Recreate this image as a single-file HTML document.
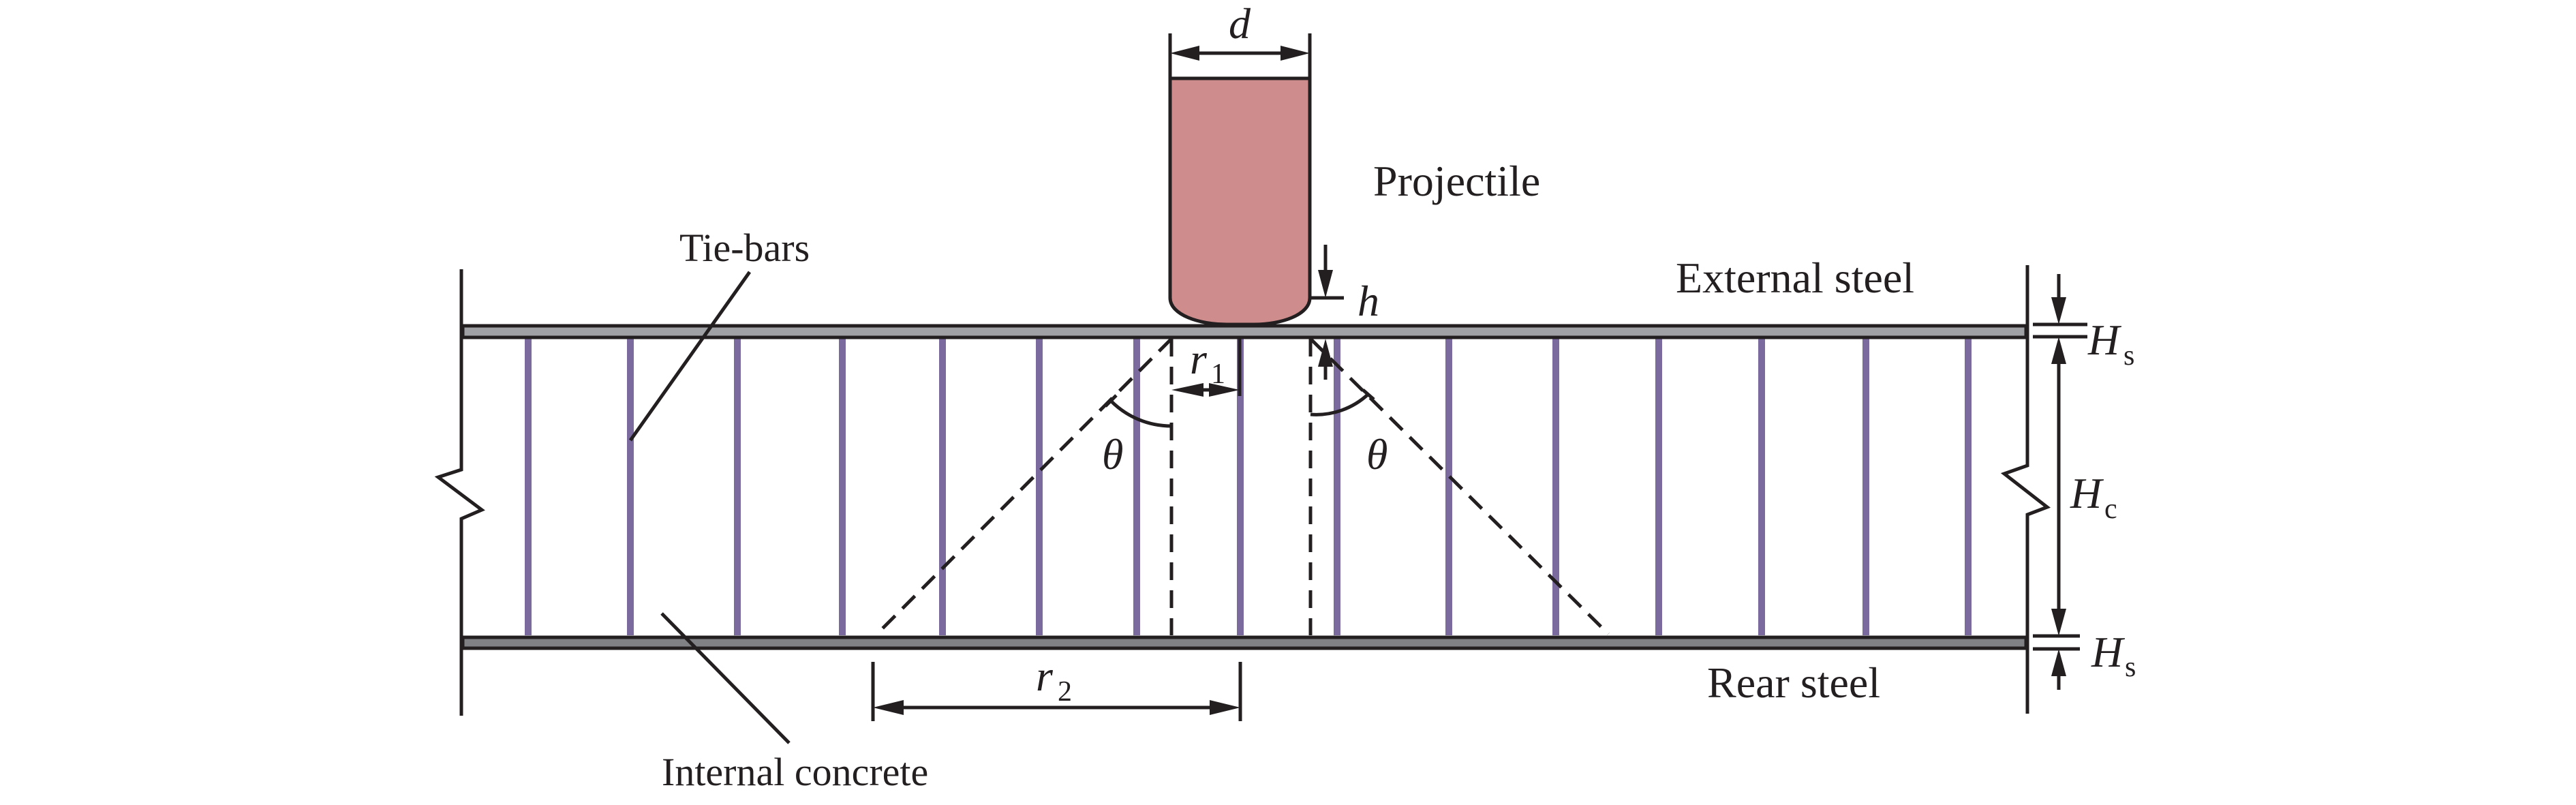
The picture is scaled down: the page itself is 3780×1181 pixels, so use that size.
<!DOCTYPE html>
<html><head><meta charset="utf-8"><style>
html,body{margin:0;padding:0;background:#fff;}
svg{display:block;}
text{font-family:"Liberation Serif",serif;fill:#231f20;}
</style></head><body>
<svg width="3780" height="1181" viewBox="0 0 3780 1181" xmlns="http://www.w3.org/2000/svg">
<!-- side break lines -->
<polyline points="677,395 677,689 643,700 707,748 677,761 677,1050" fill="none" stroke="#231f20" stroke-width="5"/>
<polyline points="2975,389 2975,683 2941,695 3004,744 2975,755 2975,1047" fill="none" stroke="#231f20" stroke-width="5"/>
<!-- tie bars -->
<g stroke="#7a6a9e" stroke-width="10">
<line x1="775" y1="497" x2="775" y2="932"/>
<line x1="925" y1="497" x2="925" y2="932"/>
<line x1="1082" y1="497" x2="1082" y2="932"/>
<line x1="1236" y1="497" x2="1236" y2="932"/>
<line x1="1383" y1="497" x2="1383" y2="932"/>
<line x1="1525" y1="497" x2="1525" y2="932"/>
<line x1="1668" y1="497" x2="1668" y2="932"/>
<line x1="1820" y1="497" x2="1820" y2="932"/>
<line x1="1962" y1="497" x2="1962" y2="932"/>
<line x1="2126" y1="497" x2="2126" y2="932"/>
<line x1="2283" y1="497" x2="2283" y2="932"/>
<line x1="2434" y1="497" x2="2434" y2="932"/>
<line x1="2585" y1="497" x2="2585" y2="932"/>
<line x1="2738" y1="497" x2="2738" y2="932"/>
<line x1="2888" y1="497" x2="2888" y2="932"/>
</g>
<!-- plates -->
<rect x="679" y="478" width="2294" height="17" fill="#a0a1a4" stroke="#231f20" stroke-width="5"/>
<rect x="679" y="935" width="2294" height="16" fill="#808184" stroke="#231f20" stroke-width="5"/>
<!-- projectile -->
<path d="M1717,115 L1922,115 L1922,437 C1922,462 1880,476 1840,476 L1800,476 C1760,476 1717,462 1717,437 Z" fill="#cf8c8c" stroke="#231f20" stroke-width="5"/>
<!-- dashed lines -->
<g stroke="#231f20" stroke-width="5" stroke-dasharray="26,15" fill="none">
<line x1="1719" y1="497" x2="1719" y2="932"/>
<line x1="1923" y1="497" x2="1923" y2="932"/>
<line x1="1719" y1="497" x2="1287" y2="930"/>
<line x1="1923" y1="497" x2="2360" y2="930"/>
</g>
<!-- angle arcs -->
<path d="M1630,588 A125,125 0 0 0 1719,625" fill="none" stroke="#231f20" stroke-width="5"/>
<line x1="1622" y1="596" x2="1638" y2="580" stroke="#231f20" stroke-width="5"/>
<path d="M1923,608 A112,112 0 0 0 2008,578" fill="none" stroke="#231f20" stroke-width="5"/>
<line x1="2000" y1="572" x2="2016" y2="586" stroke="#231f20" stroke-width="5"/>
<!-- dimension lines -->
<g stroke="#231f20" stroke-width="5" fill="none">
<line x1="1717" y1="49" x2="1717" y2="115"/>
<line x1="1922" y1="49" x2="1922" y2="115"/>
<line x1="1745" y1="78" x2="1894" y2="78"/>
<line x1="1945" y1="359" x2="1945" y2="410"/>
<line x1="1923" y1="437" x2="1972" y2="437"/>
<line x1="1945" y1="525" x2="1945" y2="557"/>
<line x1="1819" y1="497" x2="1819" y2="581"/>
<line x1="1745" y1="572" x2="1793" y2="572"/>
<line x1="1281" y1="971" x2="1281" y2="1058"/>
<line x1="1820" y1="971" x2="1820" y2="1058"/>
<line x1="1310" y1="1038" x2="1791" y2="1038"/>
<line x1="3021" y1="402" x2="3021" y2="450"/>
<line x1="2983" y1="476" x2="3063" y2="476"/>
<line x1="2983" y1="494" x2="3063" y2="494"/>
<line x1="3021" y1="522" x2="3021" y2="905"/>
<line x1="2983" y1="933" x2="3052" y2="933"/>
<line x1="2983" y1="952" x2="3052" y2="952"/>
<line x1="3021" y1="978" x2="3021" y2="1012"/>
<line x1="1100" y1="399" x2="925" y2="646"/>
<line x1="971" y1="900" x2="1158" y2="1090"/>
</g>
<!-- arrowheads -->
<g fill="#231f20">
<polygon points="1717,78 1760,67 1760,89"/>
<polygon points="1922,78 1879,67 1879,89"/>
<polygon points="1945,437 1934,396 1956,396"/>
<polygon points="1945,497 1934,538 1956,538"/>
<polygon points="1719,572 1766,562 1766,582"/>
<polygon points="1819,572 1774,562 1774,582"/>
<polygon points="1281,1038 1326,1027 1326,1049"/>
<polygon points="1820,1038 1775,1027 1775,1049"/>
<polygon points="3021,476 3010,436 3032,436"/>
<polygon points="3021,494 3010,534 3032,534"/>
<polygon points="3021,933 3010,893 3032,893"/>
<polygon points="3021,952 3010,992 3032,992"/>
</g>
<!-- labels -->
<g font-size="58">
<text x="997" y="383">Tie-bars</text>
<text x="971" y="1152">Internal concrete</text>
</g>
<g font-size="64">
<text x="2015" y="287">Projectile</text>
<text x="2459" y="429">External steel</text>
<text x="2505" y="1023">Rear steel</text>
</g>
<g font-size="64" font-style="italic">
<text x="1803" y="56">d</text>
<text x="1992" y="463">h</text>
<text x="1746" y="548">r</text>
<text x="1520" y="1013">r</text>
<text x="1617" y="688">θ</text>
<text x="2005" y="688">θ</text>
<text x="3064" y="520">H</text>
<text x="3038" y="745">H</text>
<text x="3069" y="978">H</text>
</g>
<g font-size="42">
<text x="1777" y="562">1</text>
<text x="1552" y="1028">2</text>
<text x="3116" y="535">s</text>
<text x="3088" y="760">c</text>
<text x="3118" y="992">s</text>
</g>
</svg>
</body></html>
